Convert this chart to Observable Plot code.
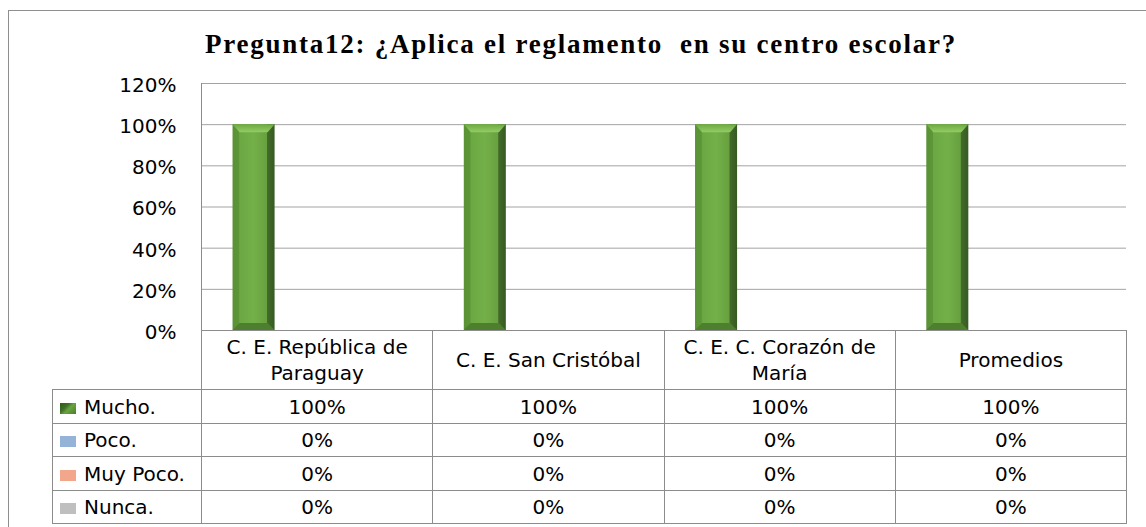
<!DOCTYPE html>
<html><head><meta charset="utf-8">
<script src="https://cdn.jsdelivr.net/npm/d3@7"></script>
<script src="https://cdn.jsdelivr.net/npm/@observablehq/plot@0.6"></script>
<style>
html,body{margin:0;padding:0;background:#fff;overflow:hidden;}
#wrap{position:relative;width:1146px;height:527px;overflow:hidden;font-family:"DejaVu Sans",sans-serif;}
#frame{position:absolute;left:8px;top:10px;width:1160px;height:560px;border:1px solid #8f8f8f;box-sizing:border-box;}
#chart{position:absolute;left:0;top:0;}
#title{position:absolute;left:205px;top:29px;font:bold 27px/30px "Liberation Serif",serif;letter-spacing:1.75px;white-space:pre;color:#000;}
#tbl{position:absolute;left:52px;top:330px;border-collapse:collapse;table-layout:fixed;width:1075px;font-size:20px;color:#000;}
#tbl td{border:1px solid #8c8c8c;text-align:center;padding:0 6px;line-height:26px;white-space:normal;}
#tbl td.blank{border-top:none;border-left:none;}
#tbl td.leg{text-align:left;padding-left:7px;white-space:nowrap;}
.sw{display:inline-block;width:16px;height:11px;margin-right:8px;vertical-align:0px;}
</style></head>
<body><div id="wrap"><div id="frame"></div><div id="chart"></div><div id="title"></div><table id="tbl"></table></div>
<script>
const title = "Pregunta12: ¿Aplica el reglamento  en su centro escolar?";
const categories = ["C. E. República de Paraguay", "C. E. San Cristóbal", "C. E. C. Corazón de María", "Promedios"];
const seriesNames = ["Mucho.", "Poco.", "Muy Poco.", "Nunca."];
const mucho = [1, 1, 1, 1];
const poco = [0, 0, 0, 0];
const muyPoco = [0, 0, 0, 0];
const nunca = [0, 0, 0, 0];
const seriesValues = [mucho, poco, muyPoco, nunca];
const seriesColors = ["#6aa440", "#95b3d7", "#f2a68b", "#bfbfbf"];
const yTicks = [0, 0.2, 0.4, 0.6, 0.8, 1.0, 1.2];

const data = seriesNames.flatMap((s, i) => categories.map((c, j) => ({series: s, si: i, category: c, value: seriesValues[i][j]})));
const fmt = d3.format(".0%");

const W = 1146, mL = 201, mR = 20, mT = 83, mB = 12, H = 342;
const step = (W - mL - mR) / categories.length;
const barW = step / 5.5; // 4 bars + 150% gap

const svg = Plot.plot({
  width: W, height: H,
  marginLeft: mL, marginRight: mR, marginTop: mT, marginBottom: mB,
  style: {background: "transparent", fontFamily: "DejaVu Sans", fontSize: "20px", color: "#000", overflow: "visible"},
  x: {domain: categories, padding: 0, round: false, axis: null},
  y: {domain: [0, 1.2], axis: null},
  marks: [
    Plot.gridY(yTicks, {stroke: "#a3a3a3", strokeOpacity: 1}),
    Plot.axisY(yTicks, {tickFormat: fmt, tickSize: 0, tickPadding: 25, dy: 2, fill: "#000", label: null}),
    Plot.ruleX([categories[0]], {y1: 0, y2: 1.2, dx: -step / 2, stroke: "#8c8c8c"}),
    ...seriesNames.map((s, i) => Plot.barY(data.filter(d => d.si === i), {
      x: "category", y: "value",
      fill: i === 0 ? "url(#barGrad)" : seriesColors[i],
      insetLeft: 0.75 * barW + i * barW,
      insetRight: step - (0.75 * barW + (i + 1) * barW)
    }))
  ]
});

// gradients
const defs = d3.select(svg).insert("defs", ":first-child");
const g1 = defs.append("linearGradient").attr("id", "barGrad").attr("x1", 0).attr("x2", 1).attr("y1", 0).attr("y2", 0);
[[0,"#5a9235"],[0.15,"#5c9637"],[0.17,"#6ba843"],[0.5,"#74b049"],[0.81,"#67a140"],[0.83,"#426b2a"],[1,"#375a22"]]
  .forEach(([o,c]) => g1.append("stop").attr("offset", o).attr("stop-color", c));
const g2 = defs.append("linearGradient").attr("id", "barTop").attr("x1", 0).attr("x2", 0).attr("y1", 0).attr("y2", 1);
[[0,"#6da943"],[1,"#93cc64"]].forEach(([o,c]) => g2.append("stop").attr("offset", o).attr("stop-color", c));

// bevel on the gradient bars
const ns = "http://www.w3.org/2000/svg";
svg.querySelectorAll('g[fill="url(#barGrad)"] rect').forEach(r => {
  const x = +r.getAttribute("x"), y = +r.getAttribute("y"), w = +r.getAttribute("width"), h = +r.getAttribute("height");
  if (!(h > 0)) return;
  const b = 7;
  const top = document.createElementNS(ns, "polygon");
  top.setAttribute("points", `${x},${y} ${x+w},${y} ${x+w-b},${y+b+1} ${x+b},${y+b+1}`);
  top.setAttribute("fill", "url(#barTop)");
  const bot = document.createElementNS(ns, "polygon");
  bot.setAttribute("points", `${x+b},${y+h-b} ${x+w-b},${y+h-b} ${x+w},${y+h} ${x},${y+h}`);
  bot.setAttribute("fill", "#4e7f2e");
  r.after(top, bot);
});
document.getElementById("chart").appendChild(svg);
document.getElementById("title").textContent = title;

// data table
const tbl = d3.select("#tbl");
const cg = tbl.append("colgroup");
cg.append("col").style("width", "149px");
categories.forEach(() => cg.append("col").style("width", step + "px"));
const hr = tbl.append("tr").style("height", "59px");
hr.append("td").attr("class", "blank");
categories.forEach(c => hr.append("td").text(c));
const rowH = [34, 33, 34, 33];
seriesNames.forEach((s, i) => {
  const tr = tbl.append("tr").style("height", rowH[i] + "px");
  const td = tr.append("td").attr("class", "leg");
  const sw = td.append("span").attr("class", "sw");
  if (i === 0) sw.style("background", "linear-gradient(135deg,#2f5a1c 0%,#3f7026 35%,#6aa440 55%,#4a7e2c 100%)");
  else sw.style("background", seriesColors[i]);
  td.append("span").text(s);
  seriesValues[i].forEach(v => tr.append("td").text(fmt(v)));
});
</script></body></html>
